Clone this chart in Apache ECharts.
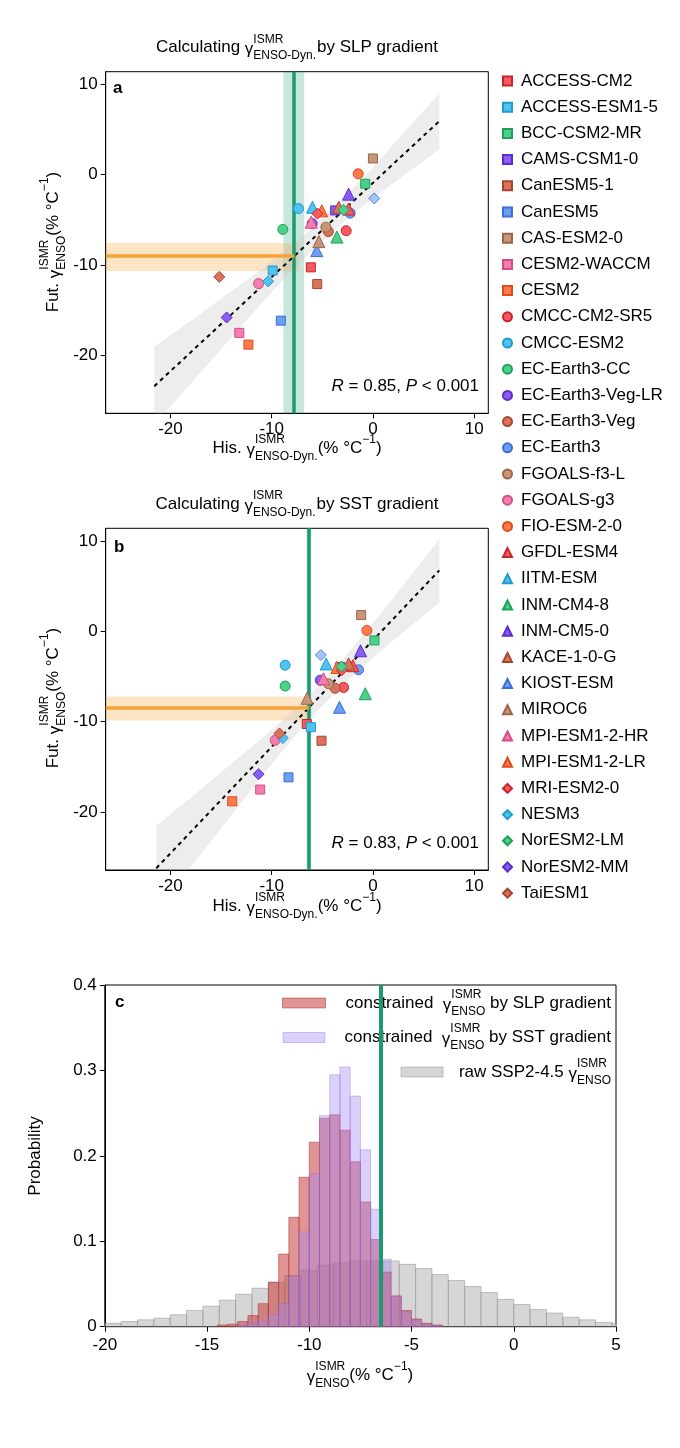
<!DOCTYPE html>
<html>
<head>
<meta charset="utf-8">
<script src="https://cdn.jsdelivr.net/npm/echarts@6/dist/echarts.min.js"></script>
<style>
html, body { margin: 0; padding: 0; background: #fff; }
#chart { width: 680px; height: 1448px; }
</style>
</head>
<body>
<div id="chart"></div>
<script>
// ---- data ----
var models = ['ACCESS-CM2', 'ACCESS-ESM1-5', 'BCC-CSM2-MR', 'CAMS-CSM1-0', 'CanESM5-1', 'CanESM5',
    'CAS-ESM2-0', 'CESM2-WACCM', 'CESM2', 'CMCC-CM2-SR5', 'CMCC-ESM2', 'EC-Earth3-CC',
    'EC-Earth3-Veg-LR', 'EC-Earth3-Veg', 'EC-Earth3', 'FGOALS-f3-L', 'FGOALS-g3', 'FIO-ESM-2-0',
    'GFDL-ESM4', 'IITM-ESM', 'INM-CM4-8', 'INM-CM5-0', 'KACE-1-0-G', 'KIOST-ESM', 'MIROC6',
    'MPI-ESM1-2-HR', 'MPI-ESM1-2-LR', 'MRI-ESM2-0', 'NESM3', 'NorESM2-LM', 'NorESM2-MM', 'TaiESM1'];
// future gamma (y, same in both panels)
var futY = [-10.25, -10.6, -1.0, -3.95, -12.1, -16.15, 1.8, -17.5, -18.8, -6.2, -3.75, -6.05,
    -5.4, -6.3, -4.25, -5.8, -12.05, 0.1, -3.8, -3.6, -6.9, -2.15, -3.6, -8.4, -7.4,
    -5.25, -4.0, -4.3, -11.8, -3.9, -15.8, -11.3];
// historical gamma, SLP gradient (panel a)
var hisSLP = [-6.13, -9.9, -0.76, -3.73, -5.5, -9.1, 0.0, -13.2, -12.3, -2.64, -7.35, -8.9,
    -6.0, -4.4, -2.25, -4.65, -11.3, -1.45, -2.4, -5.97, -3.56, -2.4, -3.37, -5.54, -5.34,
    -6.1, -5.05, -5.48, -10.35, -2.9, -14.45, -15.17];
// historical gamma, SST gradient (panel b)
var hisSST = [-6.53, -6.13, 0.15, -3.23, -5.08, -8.34, -1.16, -11.14, -13.9, -2.9, -8.67, -8.67,
    -5.2, -3.73, -1.42, -4.39, -9.66, -0.6, -1.98, -4.62, -0.76, -1.22, -2.41, -3.3, -6.5,
    -4.88, -3.56, -3.07, -8.9, -3.1, -11.3, -9.23];
// unlabelled light-blue diamond seen in both panels [x, y]
var extraSLP = [0.13, -2.62];
var extraSST = [-5.14, -2.62];

// regression lines [start, end]
var fitXA = [-21.6, 6.56], fitYA = [-23.4, 5.93];
var fitXB = [-21.4, 6.56], fitYB = [-26.2, 6.74];
// confidence bands
var bandXA = [-21.6, -18, -15, -12, -9, -6, -3, 0, 3, 6.56];
var bandLoA = [-27.7, -23.1, -19.3, -15.5, -11.8, -8.4, -5.3, -2.6, -0.1, 2.8];
var bandHiA = [-19.0, -16.2, -13.7, -11.3, -8.7, -5.9, -2.7, 0.8, 4.6, 9.0];
var bandXB = [-21.4, -18, -15, -12, -9, -6, -3, 0, 3, 6.56];
var bandLoB = [-31.0, -26.1, -21.8, -17.5, -13.3, -9.4, -6.0, -2.9, -0.1, 3.2];
var bandHiB = [-21.5, -18.4, -15.6, -12.8, -9.9, -6.75, -3.1, 0.9, 5.1, 10.2];
// observed constraint [value, low, high] and constrained future [value, low, high]
var obsSLP = [-7.78, -8.84, -6.79], conSLP = [-9.0, -10.65, -7.55];
var obsSST = [-6.33, -6.55, -6.1], conSST = [-8.5, -9.85, -7.2];

var scatTicks = [-20, -10, 0, 10];

// histograms (probability density)
var slpStart = -14.5, slpWidth = 0.5;
var slpDens = [0.002, 0.003, 0.006, 0.013, 0.027, 0.052, 0.085, 0.128, 0.175, 0.216, 0.244,
    0.248, 0.230, 0.193, 0.146, 0.102, 0.064, 0.036, 0.019, 0.009, 0.004, 0.002];
var sstStart = -13.5, sstWidth = 0.5;
var sstDens = [0.002, 0.004, 0.007, 0.014, 0.027, 0.059, 0.111, 0.179, 0.247, 0.295, 0.304,
    0.270, 0.207, 0.1375, 0.079, 0.036, 0.0176, 0.008, 0.003, 0.001];
var rawStart = -20, rawWidth = 0.8;
var rawDens = [0.004, 0.006, 0.008, 0.010, 0.014, 0.019, 0.024, 0.031, 0.038, 0.045, 0.052,
    0.060, 0.066, 0.072, 0.075, 0.077, 0.077, 0.077, 0.073, 0.068, 0.061, 0.054, 0.047,
    0.040, 0.032, 0.026, 0.020, 0.016, 0.011, 0.008, 0.005, 0.004];
var obsHist = -6.5;

// ---- styles ----
var FONT = '"Liberation Sans", Arial, sans-serif';
var palette = [
    ['#F25C5F', '#C8232C'], ['#4FC3EE', '#1E9BD0'], ['#4BD18A', '#1FA05A'],
    ['#8B5CF0', '#5B2BD0'], ['#D9735C', '#A8452E'], ['#6C9EF2', '#3B6ED8'],
    ['#C99579', '#9A6647'], ['#F47EAE', '#D64C86'], ['#FB7B4B', '#E0491C']
];
var shapes = ['rect', 'circle', 'triangle', 'diamond'];
var shapeSize = { rect: 9, circle: 10, triangle: 12, diamond: 11 };
var GREEN = '#1B9A72', ORANGE = '#F6A33B';
var AMIN = -26.4, AMAX = 11.4;

var ctx = document.createElement('canvas').getContext('2d');
function textW(s, size, style) {
    ctx.font = (style || 'normal') + ' ' + size + 'px ' + FONT;
    return ctx.measureText(s).width;
}
function txt(s, x, y, size, style, weight) {
    return {
        type: 'text', x: x, y: y,
        style: { text: s, fontSize: size, fontFamily: FONT, fontStyle: style || 'normal',
            fontWeight: weight || 'normal', fill: '#000', align: 'left', verticalAlign: 'middle' }
    };
}
// text with stacked super/subscripts
function mathText(parts, x, y, align, rotation, size) {
    size = size || 17;
    var small = 12, kids = [], cx = 0;
    parts.forEach(function (p) {
        if (typeof p === 'string') p = { t: p };
        if (p.t !== undefined) {
            kids.push(txt(p.t, cx, p.dy || 0, size, p.it ? 'italic' : 'normal'));
            cx += textW(p.t, size, p.it ? 'italic' : 'normal');
        } else {
            var w = 0;
            if (p.sup) { kids.push(txt(p.sup, cx, -8, small)); w = Math.max(w, textW(p.sup, small)); }
            if (p.sub) { kids.push(txt(p.sub, cx, 8.5, small)); w = Math.max(w, textW(p.sub, small)); }
            cx += w + (p.gap || 0);
        }
    });
    var shift = align === 'center' ? -cx / 2 : (align === 'right' ? -cx : 0);
    kids.forEach(function (k) { k.x += shift; });
    return { type: 'group', x: x, y: y, rotation: rotation || 0, children: kids, z: 100 };
}
var G = { t: 'γ', dy: 2 };

// ---- grids & axes ----
var grids = [
    { left: 105.7, top: 71.7, width: 382.6, height: 341.6 },
    { left: 105.7, top: 528.3, width: 382.6, height: 341.7 },
    { left: 104.8, top: 985, width: 511.2, height: 341.7 }
].map(function (g) {
    return Object.assign({ show: true, borderColor: '#000', borderWidth: 1, backgroundColor: 'transparent' }, g);
});
function scatAxis(i) {
    return {
        type: 'value', gridIndex: i, min: AMIN, max: AMAX,
        axisLine: { show: true, onZero: false, lineStyle: { color: '#000' } },
        axisTick: { show: true, length: 5, customValues: scatTicks, lineStyle: { color: '#000' } },
        axisLabel: { customValues: scatTicks, fontSize: 17, fontFamily: FONT, color: '#000', margin: 8 },
        splitLine: { show: false }
    };
}
var xAxes = [scatAxis(0), scatAxis(1), {
    type: 'value', gridIndex: 2, min: -20, max: 5, interval: 5,
    axisLine: { show: true, onZero: false, lineStyle: { color: '#000' } },
    axisTick: { show: true, length: 5, lineStyle: { color: '#000' } },
    axisLabel: { fontSize: 17, fontFamily: FONT, color: '#000', margin: 10 },
    splitLine: { show: false }
}];
var yAxes = [scatAxis(0), scatAxis(1), {
    type: 'value', gridIndex: 2, min: 0, max: 0.4, interval: 0.1,
    axisLine: { show: true, onZero: false, lineStyle: { color: '#000' } },
    axisTick: { show: true, length: 5, lineStyle: { color: '#000' } },
    axisLabel: { fontSize: 17, fontFamily: FONT, color: '#000', margin: 8,
        formatter: function (v) { return v === 0 ? '0' : v.toFixed(1); } },
    splitLine: { show: false }
}];

// ---- series ----
var series = [];
function bandSeries(gi, bx, lo, hi) {
    return {
        type: 'custom', xAxisIndex: gi, yAxisIndex: gi, z: 1, clip: true, silent: true,
        data: bx.map(function (x, i) { return [x, lo[i], hi[i]]; }),
        encode: { x: 0, y: [1, 2] },
        renderItem: function (params, api) {
            if (params.dataIndex !== 0) return null;
            var pts = [];
            bx.forEach(function (x, i) { pts.push(api.coord([x, hi[i]])); });
            for (var i = bx.length - 1; i >= 0; i--) pts.push(api.coord([bx[i], lo[i]]));
            return { type: 'polygon', shape: { points: pts }, style: { fill: 'rgba(200,200,200,0.32)' } };
        }
    };
}
function refSeries(gi, obs, con, endX) {
    series.push({
        type: 'line', xAxisIndex: gi, yAxisIndex: gi, data: [], z: 2, silent: true,
        markArea: {
            silent: true,
            data: [
                [{ xAxis: obs[1], itemStyle: { color: 'rgba(30,160,115,0.25)' } }, { xAxis: obs[2] }],
                [{ coord: [AMIN, con[1]], itemStyle: { color: 'rgba(250,170,60,0.3)' } }, { coord: [endX, con[2]] }]
            ]
        }
    });
    series.push({
        type: 'line', xAxisIndex: gi, yAxisIndex: gi, data: [], z: 3, silent: true,
        markLine: {
            silent: true, symbol: 'none', label: { show: false },
            data: [
                { xAxis: obs[0], lineStyle: { color: GREEN, width: 3.5, type: 'solid' } },
                [{ coord: [AMIN, con[0]], lineStyle: { color: ORANGE, width: 3.5, type: 'solid' } },
                 { coord: [obs[0], con[0]] }]
            ]
        }
    });
}
function fitSeries(gi, fx, fy) {
    return {
        type: 'line', xAxisIndex: gi, yAxisIndex: gi, z: 4, silent: true, symbol: 'none',
        data: [[fx[0], fy[0]], [fx[1], fy[1]]],
        lineStyle: { color: '#000', width: 2, type: [4, 4] }
    };
}
function scatterSeries(gi, xs) {
    models.forEach(function (m, i) {
        var c = palette[i % 9], sh = shapes[Math.floor(i / 9)];
        series.push({
            name: m, type: 'scatter', xAxisIndex: gi, yAxisIndex: gi, z: 5,
            symbol: sh, symbolSize: shapeSize[sh],
            itemStyle: { color: c[0], borderColor: c[1], borderWidth: 1, opacity: 1 },
            data: [[xs[i], futY[i]]]
        });
    });
}

series.push(bandSeries(0, bandXA, bandLoA, bandHiA));
refSeries(0, obsSLP, conSLP, -7.35);
series.push(fitSeries(0, fitXA, fitYA));
scatterSeries(0, hisSLP);
series.push({ name: 'other', type: 'scatter', xAxisIndex: 0, yAxisIndex: 0, z: 5, symbol: 'diamond', symbolSize: 11,
    itemStyle: { color: '#8DB6F5', borderColor: '#3B6ED8', borderWidth: 1 }, data: [extraSLP] });

series.push(bandSeries(1, bandXB, bandLoB, bandHiB));
refSeries(1, obsSST, conSST, -6.1);
series.push(fitSeries(1, fitXB, fitYB));
scatterSeries(1, hisSST);
series.push({ name: 'other', type: 'scatter', xAxisIndex: 1, yAxisIndex: 1, z: 5, symbol: 'diamond', symbolSize: 11,
    itemStyle: { color: '#8DB6F5', borderColor: '#3B6ED8', borderWidth: 1 }, data: [extraSST] });

function histSeries(start, width, dens, fill, stroke, z) {
    return {
        type: 'custom', xAxisIndex: 2, yAxisIndex: 2, z: z, clip: true, silent: true,
        data: dens.map(function (d, i) { return [start + i * width, start + (i + 1) * width, d]; }),
        encode: { x: [0, 1], y: 2 },
        renderItem: function (params, api) {
            var p0 = api.coord([api.value(0), api.value(2)]);
            var p1 = api.coord([api.value(1), 0]);
            return { type: 'rect', shape: { x: p0[0], y: p0[1], width: p1[0] - p0[0], height: p1[1] - p0[1] },
                style: { fill: fill, stroke: stroke, lineWidth: 0.8 } };
        }
    };
}
series.push(histSeries(rawStart, rawWidth, rawDens, 'rgba(180,180,180,0.55)', 'rgba(140,140,140,0.6)', 1));
series.push(histSeries(slpStart, slpWidth, slpDens, 'rgba(200,60,60,0.55)', 'rgba(170,40,40,0.6)', 2));
series.push(histSeries(sstStart, sstWidth, sstDens, 'rgba(165,135,245,0.4)', 'rgba(140,100,220,0.45)', 3));
series.push({
    type: 'line', xAxisIndex: 2, yAxisIndex: 2, data: [], z: 4, silent: true,
    markLine: { silent: true, symbol: 'none', label: { show: false },
        data: [{ xAxis: obsHist, lineStyle: { color: GREEN, width: 4, type: 'solid' } }] }
});

// ---- texts ----
var graphics = [
    mathText(['Calculating ', G, { sup: 'ISMR', sub: 'ENSO-Dyn.', gap: 1 }, 'by SLP gradient'], 297, 47.5, 'center'),
    mathText(['Calculating ', G, { sup: 'ISMR', sub: 'ENSO-Dyn.', gap: 1 }, 'by SST gradient'], 297, 504, 'center'),
    mathText(['His. ', G, { sup: 'ISMR', sub: 'ENSO-Dyn.' }, '(% °C', { sup: '−1' }, ')'], 297, 448, 'center'),
    mathText(['His. ', G, { sup: 'ISMR', sub: 'ENSO-Dyn.' }, '(% °C', { sup: '−1' }, ')'], 297, 906, 'center'),
    mathText(['Fut. ', G, { sup: 'ISMR', sub: 'ENSO' }, '(% °C', { sup: '−1' }, ')'], 53, 242, 'center', Math.PI / 2),
    mathText(['Fut. ', G, { sup: 'ISMR', sub: 'ENSO' }, '(% °C', { sup: '−1' }, ')'], 53, 698, 'center', Math.PI / 2),
    mathText([{ t: 'R', it: true }, ' = 0.85, ', { t: 'P', it: true }, ' < 0.001'], 479, 386, 'right'),
    mathText([{ t: 'R', it: true }, ' = 0.83, ', { t: 'P', it: true }, ' < 0.001'], 479, 843, 'right'),
    mathText([G, { sup: 'ISMR', sub: 'ENSO' }, '(% °C', { sup: '−1' }, ')'], 360, 1375, 'center'),
    mathText(['Probability'], 35, 1156, 'center', Math.PI / 2),
    mathText(['constrained  ', G, { sup: 'ISMR', sub: 'ENSO' }, ' by SLP gradient'], 611, 1003, 'right'),
    mathText(['constrained  ', G, { sup: 'ISMR', sub: 'ENSO' }, ' by SST gradient'], 611, 1037, 'right'),
    mathText(['raw SSP2-4.5 ', G, { sup: 'ISMR', sub: 'ENSO' }], 611, 1072, 'right'),
    { type: 'group', z: 100, children: [txt('a', 113, 88, 17, 'normal', 'bold')] },
    { type: 'group', z: 100, children: [txt('b', 114, 547, 17, 'normal', 'bold')] },
    { type: 'group', z: 100, children: [txt('c', 115, 1002, 17, 'normal', 'bold')] },
    { type: 'rect', z: 100, shape: { x: 282.5, y: 998, width: 43, height: 10 },
        style: { fill: 'rgba(200,60,60,0.55)', stroke: 'rgba(170,40,40,0.6)', lineWidth: 0.8 } },
    { type: 'rect', z: 100, shape: { x: 283, y: 1032.5, width: 42, height: 10 },
        style: { fill: 'rgba(165,135,245,0.4)', stroke: 'rgba(140,100,220,0.45)', lineWidth: 0.8 } },
    { type: 'rect', z: 100, shape: { x: 401, y: 1067, width: 42, height: 10 },
        style: { fill: 'rgba(180,180,180,0.55)', stroke: 'rgba(140,140,140,0.6)', lineWidth: 0.8 } }
];

var chart = echarts.init(document.getElementById('chart'), null, { renderer: 'canvas' });
chart.setOption({
    animation: false,
    backgroundColor: '#fff',
    textStyle: { fontFamily: FONT },
    grid: grids,
    xAxis: xAxes,
    yAxis: yAxes,
    legend: {
        data: models, orient: 'vertical', left: 497, top: 66,
        itemWidth: 9, itemHeight: 9, itemGap: 6.2, selectedMode: false,
        textStyle: { fontSize: 17, fontFamily: FONT, color: '#000', lineHeight: 20, padding: [0, 0, 0, 4] }
    },
    series: series,
    graphic: { elements: graphics }
});
</script>
</body>
</html>
